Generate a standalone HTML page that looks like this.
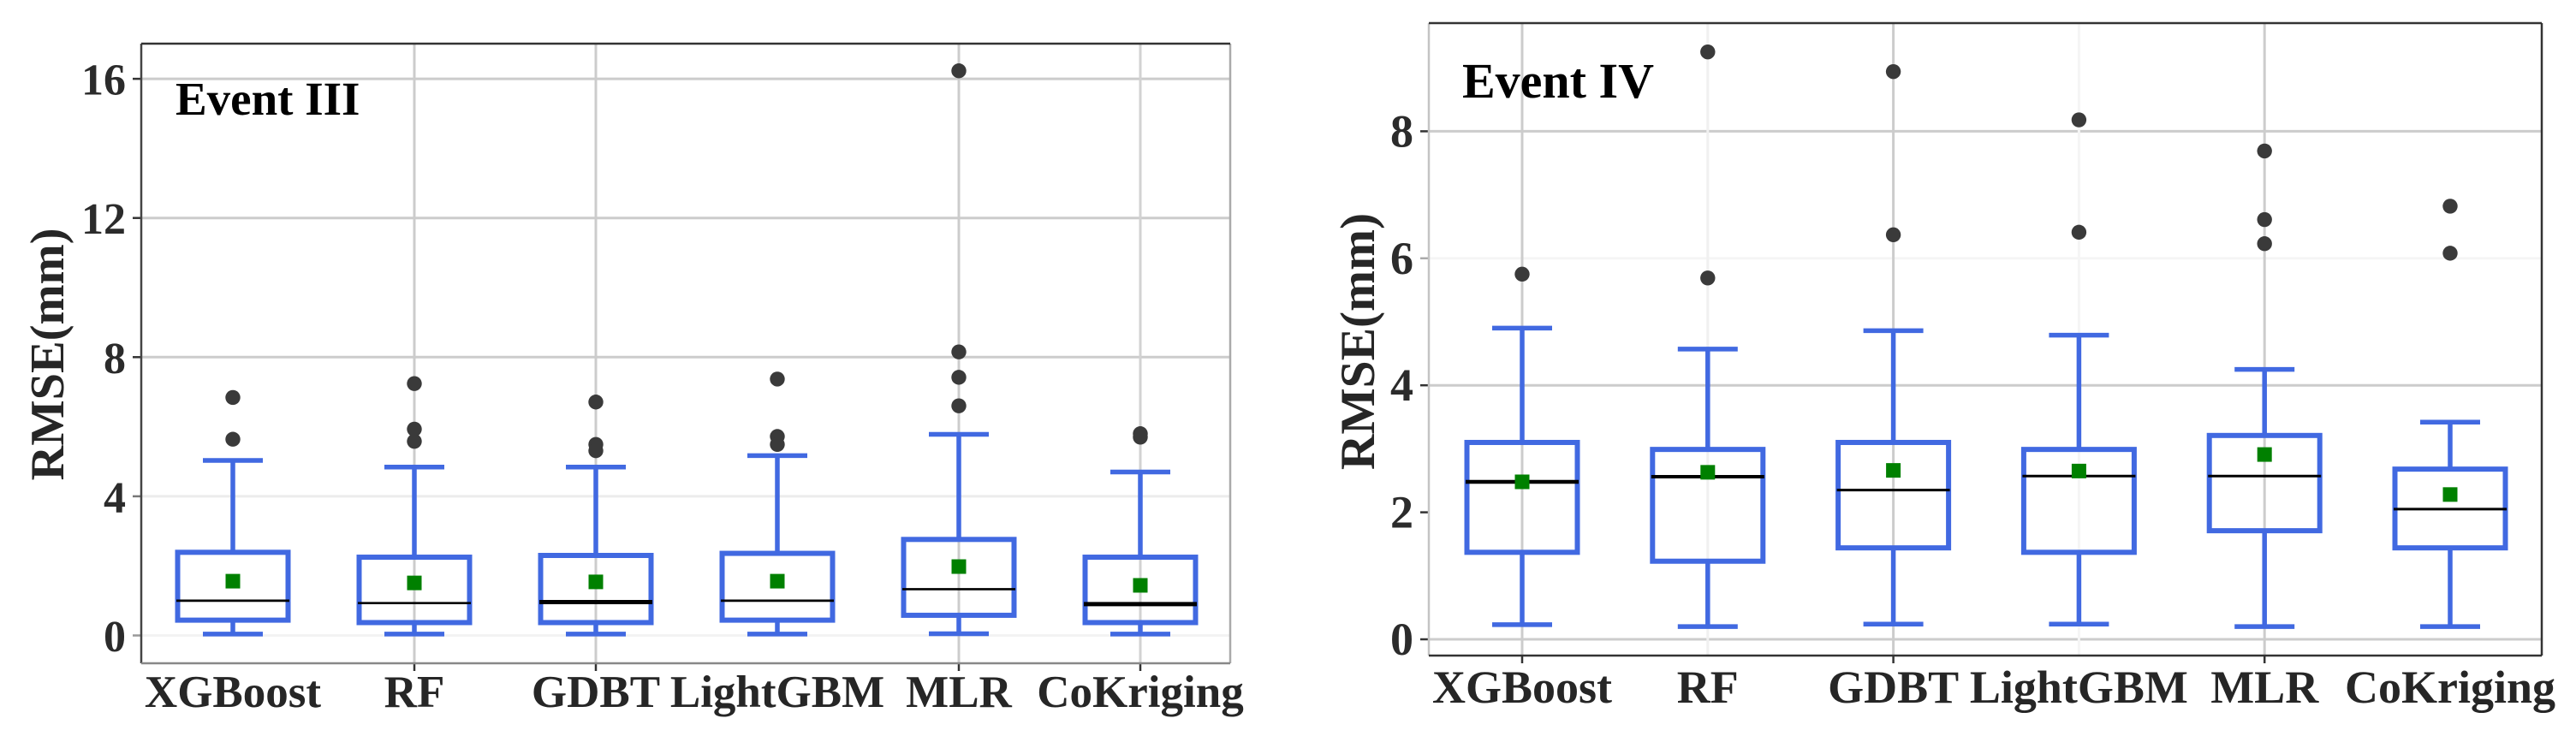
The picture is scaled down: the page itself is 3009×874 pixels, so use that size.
<!DOCTYPE html>
<html lang="en">
<head>
<meta charset="utf-8">
<title>RMSE box plots Event III and Event IV</title>
<style>
html,body{margin:0;padding:0;background:#fff;width:3009px;height:874px;overflow:hidden}
svg{display:block}
text{font-family:"Liberation Serif",serif;font-weight:bold}
</style>
</head>
<body>
<svg id="figure" width="3009" height="874" viewBox="0 0 3009 874" xmlns="http://www.w3.org/2000/svg"></svg>
<script>
const categories = ['XGBoost', 'RF', 'GDBT', 'LightGBM', 'MLR', 'CoKriging'];

const event3Ticks = [0, 4, 8, 12, 16];
const event3WhiskerLow = [0.04, 0.04, 0.04, 0.04, 0.05, 0.04];
const event3Q1 = [0.44, 0.37, 0.37, 0.44, 0.58, 0.37];
const event3Median = [1.0, 0.93, 0.96, 1.0, 1.33, 0.9];
const event3Mean = [1.56, 1.51, 1.54, 1.56, 1.98, 1.44];
const event3Q3 = [2.39, 2.25, 2.30, 2.36, 2.76, 2.25];
const event3WhiskerHigh = [5.03, 4.84, 4.84, 5.17, 5.78, 4.7];
const event3Outliers = [
  [6.84, 5.64],
  [7.24, 5.93, 5.58],
  [6.71, 5.49, 5.31],
  [7.37, 5.72, 5.49],
  [16.23, 8.15, 7.42, 6.6],
  [5.8, 5.7]
];

const event4Ticks = [0, 2, 4, 6, 8];
const event4WhiskerLow = [0.23, 0.2, 0.24, 0.24, 0.2, 0.2];
const event4Q1 = [1.37, 1.23, 1.44, 1.37, 1.71, 1.44];
const event4Median = [2.48, 2.56, 2.35, 2.57, 2.57, 2.05];
const event4Mean = [2.48, 2.63, 2.66, 2.65, 2.91, 2.28];
const event4Q3 = [3.10, 2.99, 3.10, 2.99, 3.21, 2.68];
const event4WhiskerHigh = [4.90, 4.57, 4.86, 4.79, 4.25, 3.42];
const event4Outliers = [
  [5.75],
  [9.25, 5.69],
  [8.94, 6.37],
  [8.18, 6.41],
  [7.69, 6.61, 6.23],
  [6.82, 6.08]
];

const NS = 'http://www.w3.org/2000/svg';
const figure = document.getElementById('figure');

function node(parent, tag, attrs, name) {
  const el = document.createElementNS(NS, tag);
  for (const k in attrs) el.setAttribute(k, attrs[k]);
  
  
  parent.appendChild(el);
  return el;
}

function drawChart(c) {
  const g = node(figure, 'g', {}, c.id + '-chart');
  const y = v => c.y0 - v * c.yUnit;
  const x = i => c.x0 + i * c.xStep;

  c.ticks.forEach((t, i) => {
    if (c.hGrid[i]) node(g, 'line', {x1: c.left, x2: c.right, y1: y(t), y2: y(t), stroke: c.hGrid[i], 'stroke-width': 3}, c.id + '-gridline-y-' + t);
    node(g, 'line', {x1: c.left - 10, x2: c.left, y1: y(t), y2: y(t), stroke: c.yTickColor[i], 'stroke-width': 2.5}, c.id + '-tick-y-' + t);
    const label = node(g, 'text', {x: c.tickRight, y: y(t) + c.tickOffset, 'text-anchor': 'end', 'font-size': c.tickSize, fill: '#2b2b2b'}, c.id + '-tick-label-y-' + t);
    label.textContent = t;
  });

  categories.forEach((name, i) => {
    if (c.vGrid[i]) node(g, 'line', {x1: x(i), x2: x(i), y1: c.top, y2: c.bottom, stroke: c.vGrid[i], 'stroke-width': 3}, c.id + '-gridline-x-' + name);
    if (c.xTick[i]) node(g, 'line', {x1: x(i), x2: x(i), y1: c.bottom, y2: c.bottom + 9, stroke: '#333', 'stroke-width': 2.5}, c.id + '-tick-x-' + name);
    const label = node(g, 'text', {x: x(i), y: c.xLabelY, 'text-anchor': 'middle', 'font-size': c.xLabelSize, fill: '#262626'}, c.id + '-tick-label-x-' + name);
    label.textContent = name;
  });

  categories.forEach((name, i) => {
    const b = node(g, 'g', {}, c.id + '-box-' + name);
    const blue = '#4169e1';
    node(b, 'line', {x1: x(i), x2: x(i), y1: y(c.q3[i]), y2: y(c.hi[i]), stroke: blue, 'stroke-width': 5.5}, 'upper-whisker');
    node(b, 'line', {x1: x(i), x2: x(i), y1: y(c.q1[i]), y2: y(c.lo[i]), stroke: blue, 'stroke-width': 5.5}, 'lower-whisker');
    node(b, 'line', {x1: x(i) - 35, x2: x(i) + 35, y1: y(c.hi[i]), y2: y(c.hi[i]), stroke: blue, 'stroke-width': 5.5}, 'upper-cap');
    node(b, 'line', {x1: x(i) - 35, x2: x(i) + 35, y1: y(c.lo[i]), y2: y(c.lo[i]), stroke: blue, 'stroke-width': 5.5}, 'lower-cap');
    node(b, 'rect', {x: x(i) - 64.5, width: 129, y: y(c.q3[i]), height: y(c.q1[i]) - y(c.q3[i]), fill: 'none', stroke: blue, 'stroke-width': 6}, 'interquartile-box');
    node(b, 'line', {x1: x(i) - 66, x2: x(i) + 66, y1: y(c.median[i]), y2: y(c.median[i]), stroke: '#000', 'stroke-width': c.medianWeight[i]}, 'median-line');
    node(b, 'rect', {x: x(i) - 8.5, y: y(c.mean[i]) - 8.5, width: 17, height: 17, fill: '#008000'}, 'mean-marker');
    c.outliers[i].forEach(v => {
      node(b, 'circle', {cx: x(i), cy: y(v), r: 8.7, fill: '#3a3a3a'}, 'outlier-point');
    });
  });

  node(g, 'line', {x1: c.left, x2: c.left, y1: c.top, y2: c.bottom, stroke: c.borderLeft, 'stroke-width': 2.5}, c.id + '-panel-border-left');
  node(g, 'line', {x1: c.right, x2: c.right, y1: c.top, y2: c.bottom, stroke: c.borderRight, 'stroke-width': 2.5}, c.id + '-panel-border-right');
  node(g, 'line', {x1: c.left, x2: c.right, y1: c.top, y2: c.top, stroke: '#333', 'stroke-width': 2.5}, c.id + '-panel-border-top');
  node(g, 'line', {x1: c.left, x2: c.right, y1: c.bottom, y2: c.bottom, stroke: c.borderBottom, 'stroke-width': 2.5}, c.id + '-panel-border-bottom');

  const title = node(g, 'text', {x: c.titleX, y: c.titleY, 'font-size': c.titleSize, fill: '#000'}, c.id + '-event-label');
  title.textContent = c.title;
  const axis = node(g, 'text', {transform: 'translate(' + c.axisX + ',' + c.axisY + ') rotate(-90)', 'text-anchor': 'middle', 'font-size': c.axisSize, fill: '#262626'}, c.id + '-y-axis-title');
  axis.textContent = 'RMSE(mm)';
}

drawChart({
  id: 'event-3', title: 'Event III', ticks: event3Ticks,
  lo: event3WhiskerLow, q1: event3Q1, median: event3Median, mean: event3Mean, q3: event3Q3, hi: event3WhiskerHigh, outliers: event3Outliers,
  left: 165, right: 1437, top: 51, bottom: 775, y0: 742.5, yUnit: 40.65, x0: 272, xStep: 212,
  hGrid: ['#f3f3f3', '#ececec', '#cccccc', '#cccccc', '#cccccc'],
  yTickColor: ['#999', '#777', '#333', '#333', '#333'],
  vGrid: [null, '#cccccc', '#cccccc', null, '#cccccc', '#d2d2d2'],
  xTick: [false, true, true, false, true, true],
  medianWeight: [2.7, 2.7, 5, 2.7, 2.7, 5],
  tickRight: 147, tickOffset: 18.5, tickSize: 52, xLabelY: 826, xLabelSize: 53,
  borderLeft: '#444', borderRight: '#aaa', borderBottom: '#888',
  titleX: 205, titleY: 134, titleSize: 55,
  axisX: 74, axisY: 414, axisSize: 56.5
});

drawChart({
  id: 'event-4', title: 'Event IV', ticks: event4Ticks,
  lo: event4WhiskerLow, q1: event4Q1, median: event4Median, mean: event4Mean, q3: event4Q3, hi: event4WhiskerHigh, outliers: event4Outliers,
  left: 1669, right: 2969, top: 27, bottom: 766, y0: 747, yUnit: 74.2, x0: 1778, xStep: 216.8,
  hGrid: ['#cccccc', null, '#cccccc', '#f5f5f5', '#cccccc'],
  yTickColor: ['#333', '#333', '#333', '#aaa', '#333'],
  vGrid: ['#cccccc', '#f0f0f0', '#cccccc', '#f5f5f5', '#cccccc', null],
  xTick: [true, false, true, false, true, false],
  medianWeight: [4.5, 4, 3, 3, 3, 3],
  tickRight: 1651, tickOffset: 18, tickSize: 54, xLabelY: 821, xLabelSize: 54,
  borderLeft: '#c4c4c4', borderRight: '#333', borderBottom: '#333',
  titleX: 1708, titleY: 114, titleSize: 58,
  axisX: 1605, axisY: 399, axisSize: 57.5
});
</script>
</body>
</html>
